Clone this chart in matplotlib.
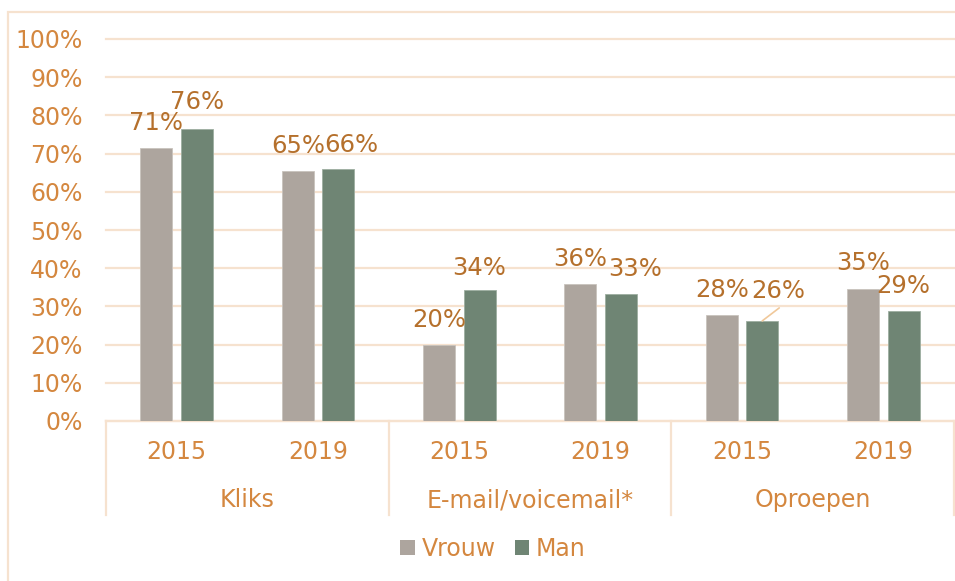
import matplotlib.pyplot as plt
from matplotlib.patches import Rectangle, Patch
import matplotlib.transforms as mtransforms

groups = ["Kliks", "E-mail/voicemail*", "Oproepen"]
years = ["2015", "2019"]
vrouw = [71.5, 65.4, 19.9, 35.9, 27.7, 34.6]
man = [76.4, 66.0, 34.3, 33.2, 26.2, 28.8]
vrouw_labels = ["71%", "65%", "20%", "36%", "28%", "35%"]
man_labels = ["76%", "66%", "34%", "33%", "26%", "29%"]
yticks = [0, 10, 20, 30, 40, 50, 60, 70, 80, 90, 100]

# label nudges in pixels (dx, dy) to mimic the Excel placement
vrouw_off = [(0, 25), (0, 25), (0, 25), (0, 25), (0, 25), (0, 26)]
man_off = [(0, 27), (13, 24), (0, 22), (14, 25), (16, 30), (0, 25)]

c_vrouw = "#ADA59E"
c_man = "#6F8574"
c_text = "#D4873F"
c_label = "#B5702C"
c_line = "#F6E2CF"

plt.rcParams["font.family"] = "DejaVu Sans"
fs = 17
fs_lab = 17.5

W, H = 955, 581
fig = plt.figure(figsize=(W / 100, H / 100), dpi=100)
ax = fig.add_axes([106 / W, 1 - 421 / H, 848 / W, 382 / H])

# outer chart border
fig.patches.append(Rectangle((7.5 / W, -0.1), 1.2, 1 - 12 / H + 0.1, transform=fig.transFigure,
                             fill=False, edgecolor=c_line, linewidth=1.6))

n = len(vrouw)
xs = list(range(n))
bw = 0.226
off = 0.143
ax.bar([x - off for x in xs], vrouw, bw, color=c_vrouw, edgecolor="#C9C3BD", linewidth=0.6, zorder=3)
ax.bar([x + off for x in xs], man, bw, color=c_man, edgecolor="#9DAEA1", linewidth=0.6, zorder=3)

for i in range(n):
    ax.annotate(vrouw_labels[i], (xs[i] - off, vrouw[i]), xytext=vrouw_off[i],
                textcoords="offset pixels", ha="center", va="center",
                fontsize=fs_lab, color=c_label, zorder=4)
    ax.annotate(man_labels[i], (xs[i] + off, man[i]), xytext=man_off[i],
                textcoords="offset pixels", ha="center", va="center",
                fontsize=fs_lab, color=c_label, zorder=4)

# leader line for the nudged Oproepen 2015 Man label
ax.annotate("", (xs[4] + off, man[4]), xytext=(17, 13), textcoords="offset pixels",
            arrowprops=dict(arrowstyle="-", color="#F0C89A", lw=1.2, shrinkA=0, shrinkB=0),
            zorder=4)

ax.set_xlim(-0.5, n - 0.5)
ax.set_ylim(0, 100)
ax.set_yticks(yticks)
ax.set_yticklabels([f"{t}%" for t in yticks])
ax.tick_params(axis="y", length=0, pad=17, labelsize=fs, labelcolor=c_text)
ax.set_xticks([])
ax.grid(axis="y", color=c_line, linewidth=1.6, zorder=0)
for gl in ax.get_ygridlines():
    gl.set_clip_on(False)
for s in ["top", "right", "left"]:
    ax.spines[s].set_visible(False)
ax.spines["bottom"].set_color(c_line)
ax.spines["bottom"].set_linewidth(1.6)

# two-level category axis
tr = mtransforms.blended_transform_factory(ax.transData, ax.transAxes)
h = 382
for i in range(n):
    ax.text(xs[i], -31 / h, years[i % 2], transform=tr, ha="center", va="center",
            fontsize=fs, color=c_text)
for g, name in enumerate(groups):
    ax.text(2 * g + 0.5, -79 / h, name, transform=tr, ha="center", va="center",
            fontsize=fs, color=c_text)
for g in range(len(groups) + 1):
    xb = 2 * g - 0.5
    ax.plot([xb, xb], [0, -94 / h], transform=tr, color=c_line, linewidth=1.6, clip_on=False)

handles = [Patch(facecolor=c_vrouw, label="Vrouw"), Patch(facecolor=c_man, label="Man")]
leg = fig.legend(handles=handles, loc="center", bbox_to_anchor=(493 / W, 1 - 549 / H), ncol=2,
                 frameon=False, fontsize=fs, handlelength=0.6, handleheight=0.6,
                 handletextpad=0.3, columnspacing=0.8)
for t in leg.get_texts():
    t.set_color(c_text)

fig.savefig("out.png", dpi=100)
